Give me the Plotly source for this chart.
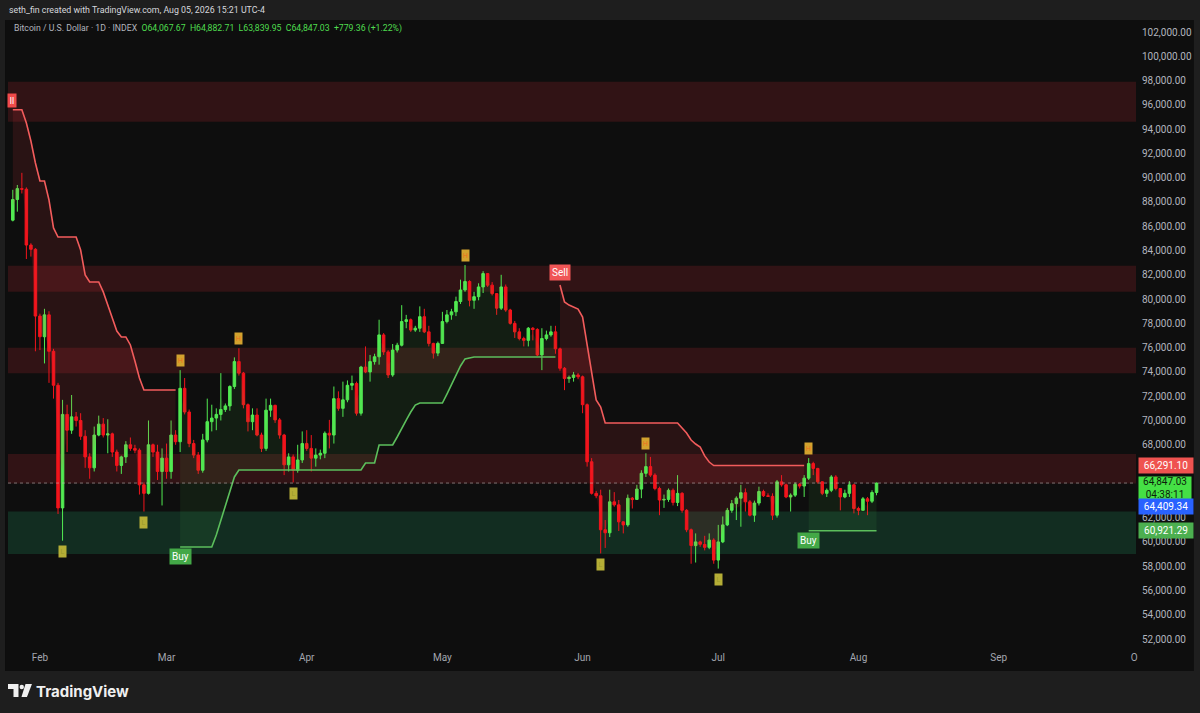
import plotly.graph_objects as go
import pandas as pd

# ---------------- data ----------------
dates = pd.date_range("2026-01-26", periods=192, freq="D").strftime("%Y-%m-%d").tolist()

opens = [86500, 88200, 89100, 89050, 84450, 84100, 78600, 76900, 78700, 75700,
         72900, 62800, 70500, 69200, 70300, 70000, 68700, 67000, 66100, 68800,
         69700, 68800, 68900, 67400, 66300, 67000, 68000, 67700, 67550, 64700,
         64000, 68000, 67400, 65800, 66900, 65800, 68800, 68250, 72650, 70700,
         68100, 67150, 65900, 68400, 69900, 70200, 70500, 70900, 71200, 72800,
         74850, 73900, 71300, 69900, 70450, 68800, 67700, 70850, 71250, 70050,
         68800, 66350, 67000, 65900, 66750, 68100, 67700, 66900, 67150, 67300,
         68950, 68800, 71800, 71000, 71700, 72900, 73050, 70600, 74400, 74000,
         74850, 75250, 77050, 75650, 73750, 75800, 76200, 78150, 78300, 77450,
         77600, 78550, 77300, 76350, 75550, 76350, 78150, 78700, 78950, 79800,
         80750, 81450, 79900, 80200, 81000, 82100, 81150, 80450, 79250, 81000,
         79100, 78000, 77300, 76750, 76600, 77600, 77500, 75400, 76750, 77050,
         77300, 75900, 74300, 73450, 73550, 73750, 73600, 71300, 66600, 64000,
         63800, 61000, 60750, 63300, 63050, 61650, 61400, 63600, 63500, 64350,
         65650, 66200, 65500, 64400, 63450, 63500, 64250, 63250, 64000, 62600,
         61000, 59700, 60000, 59800, 59550, 60150, 58500, 60000, 61400, 62600,
         63150, 63600, 64050, 63300, 62200, 63200, 64150, 63800, 63750, 62200,
         64950, 64700, 63700, 63850, 64750, 64600, 65250, 66450, 66050, 64950,
         64000, 64250, 65350, 64400, 63700, 64000, 64700, 62750, 62600, 63550,
         63350, 64067.67]

highs = [89000, 89400, 90400, 89200, 84600, 84200, 78800, 79200, 79000, 75900,
         73100, 71700, 71300, 72100, 70700, 70600, 69200, 67300, 69500, 70400,
         70200, 70100, 69000, 67600, 67100, 68300, 68600, 68000, 67700, 64900,
         70000, 68100, 68000, 67700, 68100, 70000, 69200, 74150, 73500, 70900,
         68400, 67400, 68900, 71800, 71300, 71000, 73900, 71400, 72900, 75200,
         75950, 74000, 71400, 71000, 71000, 69000, 71800, 71800, 71300, 70200,
         68900, 67300, 67200, 68000, 69100, 69200, 68800, 67700, 67600, 69100,
         70050, 72800, 72400, 73200, 73300, 73700, 73200, 74500, 76100, 75400,
         75500, 78300, 77200, 75800, 76300, 76400, 79500, 78700, 78400, 77800,
         79400, 79200, 77800, 76400, 76500, 78950, 79100, 79200, 80200, 81600,
         82800, 81550, 80600, 81300, 82300, 82150, 81400, 80500, 82000, 81200,
         79200, 78200, 77600, 76900, 77700, 77700, 77600, 77600, 77400, 77800,
         77800, 76000, 74400, 73700, 74000, 73900, 73700, 71400, 66900, 64200,
         64300, 61800, 64300, 64100, 63450, 61700, 63900, 63700, 64700, 65900,
         67300, 67000, 65650, 64550, 63900, 64400, 64400, 65500, 64100, 62700,
         61100, 60700, 60100, 60500, 60700, 60300, 61400, 62100, 62800, 63450,
         63750, 64700, 64400, 63450, 63400, 64550, 64300, 64000, 64000, 65100,
         65500, 64800, 64000, 64900, 64850, 65500, 66900, 66600, 66100, 65000,
         64400, 65500, 65500, 64400, 64300, 65000, 64800, 62900, 63700, 63700,
         64250, 64882.71]

lows = [86400, 87200, 88700, 83300, 83500, 75700, 75800, 74700, 73100, 71800,
        62300, 60100, 67400, 68900, 69500, 68400, 66100, 65200, 65800, 68700,
        68600, 67300, 67000, 65800, 65600, 66500, 67500, 67300, 63900, 62500,
        63900, 67000, 65100, 63000, 65200, 65200, 68000, 67400, 70500, 67800,
        66900, 65600, 65700, 68200, 69100, 69200, 70000, 70700, 70800, 72600,
        73700, 71000, 69100, 69200, 68700, 67400, 67500, 70300, 69800, 68500,
        65500, 65800, 64900, 65700, 66500, 67500, 65800, 66200, 66800, 66900,
        67700, 68100, 70800, 70300, 71500, 72500, 70400, 70400, 73900, 73200,
        74600, 74600, 75400, 73500, 73600, 75600, 76100, 77600, 77300, 77300,
        77300, 77200, 76100, 75100, 75300, 76300, 78000, 78300, 78600, 79600,
        80600, 79400, 79200, 79900, 80500, 81000, 80300, 78700, 79100, 78950,
        77900, 76800, 76600, 76100, 76100, 76600, 75300, 74150, 76600, 76900,
        75500, 74100, 72500, 73100, 73200, 73400, 70600, 66200, 63900, 63600,
        59050, 59500, 60400, 62900, 60900, 60700, 61250, 62750, 63450, 63600,
        65350, 65350, 64250, 62200, 62800, 63300, 63000, 62950, 62400, 60800,
        58200, 58300, 59600, 59300, 59400, 58200, 57800, 59900, 61300, 62400,
        61800, 61250, 62500, 62100, 61650, 63000, 63700, 63700, 61800, 62000,
        64550, 63600, 62500, 63700, 64400, 63700, 65100, 65500, 64800, 63850,
        63700, 64100, 64250, 62600, 63600, 63700, 62350, 62200, 62600, 62200,
        63200, 63839.95]

closes = [88200, 89100, 89050, 84450, 84100, 78600, 76900, 78700, 75700, 72900,
          62800, 70500, 69200, 70300, 70000, 68700, 67000, 66100, 68800, 69700,
          68800, 68900, 67400, 66300, 67000, 68000, 67700, 67550, 64700, 64000,
          68000, 67400, 65800, 66900, 65800, 68800, 68250, 72650, 70700, 68100,
          67150, 65900, 68400, 69900, 70200, 70500, 70900, 71200, 72800, 74850,
          73900, 71300, 69900, 70450, 68800, 67700, 70850, 71250, 70050, 68800,
          66350, 67000, 65900, 66750, 68100, 67700, 66900, 67150, 67300, 68950,
          68800, 71800, 71000, 71700, 72900, 73050, 70600, 74400, 74000, 74850,
          75250, 77050, 75650, 73750, 75800, 76200, 78150, 78300, 77450, 77600,
          78550, 77300, 76350, 75550, 76350, 78150, 78700, 78950, 79800, 80750,
          81450, 79900, 80200, 81000, 82100, 81150, 80450, 79250, 81000, 79100,
          78000, 77300, 76750, 76600, 77600, 77500, 75400, 76750, 77050, 77300,
          75900, 74300, 73450, 73550, 73750, 73600, 71300, 66600, 64000, 63800,
          61000, 60750, 63300, 63050, 61650, 61400, 63600, 63500, 64350, 65650,
          66200, 65500, 64400, 63450, 63500, 64250, 63250, 64000, 62600, 61000,
          59700, 60000, 59800, 59550, 60150, 58500, 60000, 61400, 62600, 63150,
          63600, 64050, 63300, 62200, 63200, 64150, 63800, 63750, 62200, 64950,
          64700, 63700, 63850, 64750, 64600, 65250, 66450, 66050, 64950, 64000,
          64250, 65350, 64400, 63700, 64000, 64700, 62750, 62600, 63550, 63350,
          64067.67, 64847.03]

# trailing-stop line, one list per trend segment (start index, values)
red_trail_1 = [95600, 95600, 95600, 94500, 93020, 91210, 89730, 89730, 88160, 85860,
               85115, 85115, 85115, 85115, 85115, 84040, 81990, 81410, 81410, 81410,
               80590, 79430, 78440, 77370, 76880, 76880, 76220, 74900, 73500, 72510,
               72510, 72510, 72510, 72510, 72510, 72510, 72510]
green_trail_1 = [59580] * 8 + [60570, 61800, 62960, 64190, 65350] + [65920] * 28 + \
                [66500] * 3 + [67980] * 4 + [68640, 69380, 70040, 70700, 71270] + \
                [71440] * 6 + [72180, 72920, 73660, 74490, 75070, 75150] + [75230] * 19
red_trail_2 = [81160, 79760, 79510, 79350, 79180, 78520, 76220, 73910, 71690, 71110] + \
              [69790] * 17 + [69380, 68970, 68390, 68060, 67820, 67080, 66580] + [66291.10] * 21
green_trail_2 = [60921.29] * 16
trail_starts = [0, 37, 121, 176]
trail_values = [red_trail_1, green_trail_1, red_trail_2, green_trail_2]
trail_dirs = ["down", "up", "down", "up"]

# horizontal supply / demand zones
zone_low = [94600, 80600, 73900, 64800, 59000]
zone_high = [97900, 82750, 76000, 67250, 62500]
zone_kind = ["supply", "supply", "supply", "supply", "demand"]

# pivot markers
pivot_idx = [11, 29, 37, 50, 62, 100, 130, 140, 156, 176]
pivot_kind = ["L", "L", "H", "H", "L", "H", "L", "H", "L", "H"]

# signals
signal_idx = [37, 121, 176]
signal_text = ["Buy", "Sell", "Buy"]

month_ticks = ["2026-02-01", "2026-03-01", "2026-04-01", "2026-05-01", "2026-06-01",
               "2026-07-01", "2026-08-01", "2026-09-01", "2026-10-01"]
month_labels = ["Feb", "Mar", "Apr", "May", "Jun", "Jul", "Aug", "Sep", "O"]

# price-scale ticks (64,000 and 66,000 are covered by the price labels)
price_ticks = [52000, 54000, 56000, 58000, 60000, 62000, 68000, 70000, 72000, 74000,
               76000, 78000, 80000, 82000, 84000, 86000, 88000, 90000, 92000, 94000,
               96000, 98000, 100000, 102000]

last_price = 64847.03
countdown = "04:38:11"
trail_last = 66291.10
support_last = 60921.29
blue_level = 64409.34

# ---------------- layout helpers ----------------
W, H = 1200, 713
PL, PR, PT, PB = 8, 1138, 20, 650


def fx(px):
    return (px - PL) / (PR - PL)


def fy(py):
    return (PB - py) / (PB - PT)


BG = "#0e0e0e"
FRAME = "#1e1e1e"
UP = "#52ea52"
DOWN = "#f2141c"
RED_LINE = "#f25c5c"
GREEN_LINE = "#5cbf5c"

fig = go.Figure()

# trailing line + fill to the candle mid
for start, vals, d in zip(trail_starts, trail_values, trail_dirs):
    xs = dates[start:start + len(vals)]
    mids = [(highs[i] + lows[i]) / 2 for i in range(start, start + len(vals))]
    fig.add_trace(go.Scatter(x=xs, y=mids, mode="lines", line=dict(width=0),
                             hoverinfo="skip", showlegend=False))
    fig.add_trace(go.Scatter(
        x=xs, y=vals, mode="lines",
        line=dict(color=RED_LINE if d == "down" else GREEN_LINE, width=1.6),
        fill="tonexty",
        fillcolor="rgba(242,54,69,0.12)" if d == "down" else "rgba(76,200,80,0.09)",
        hoverinfo="skip", showlegend=False))

fig.add_trace(go.Candlestick(
    x=dates, open=opens, high=highs, low=lows, close=closes,
    increasing=dict(line=dict(color=UP, width=1), fillcolor=UP),
    decreasing=dict(line=dict(color=DOWN, width=1), fillcolor=DOWN),
    whiskerwidth=0, hoverinfo="skip", showlegend=False))

shapes = []
# chart panel background
shapes.append(dict(type="rect", xref="paper", yref="paper", x0=fx(5), x1=fx(1196),
                   y0=fy(671), y1=fy(20), fillcolor=BG, line=dict(width=0), layer="below"))
for lo, hi, k in zip(zone_low, zone_high, zone_kind):
    shapes.append(dict(type="rect", xref="paper", yref="y", x0=0, x1=1, y0=lo, y1=hi,
                       fillcolor="rgba(190,40,50,0.2)" if k == "supply" else "rgba(34,171,110,0.2)",
                       line=dict(width=0), layer="below"))
# last price dotted line
shapes.append(dict(type="line", xref="paper", yref="y", x0=0, x1=1, y0=last_price, y1=last_price,
                   line=dict(color="rgba(190,190,190,0.55)", width=1, dash="dot")))
# TradingView logo
shapes.append(dict(type="path", xref="paper", yref="paper",
                   path=f"M {fx(8)},{fy(684)} L {fx(18.5)},{fy(684)} L {fx(18.5)},{fy(697)} "
                        f"L {fx(13.5)},{fy(697)} L {fx(13.5)},{fy(689)} L {fx(8)},{fy(689)} Z",
                   fillcolor="#f0f0f0", line=dict(width=0)))
shapes.append(dict(type="circle", xref="paper", yref="paper", x0=fx(19.6), x1=fx(24.0),
                   y0=fy(689.2), y1=fy(684.8), fillcolor="#f0f0f0", line=dict(width=0)))
shapes.append(dict(type="path", xref="paper", yref="paper",
                   path=f"M {fx(25.5)},{fy(684)} L {fx(32)},{fy(684)} L {fx(27)},{fy(697)} "
                        f"L {fx(21.5)},{fy(697)} Z",
                   fillcolor="#f0f0f0", line=dict(width=0)))

ann = []
FONT = "Roboto, Liberation Sans, Arial"
ann.append(dict(xref="paper", yref="paper", x=fx(7), y=fy(10), xanchor="left", yanchor="middle",
                text="seth_fin created with TradingView.com, Aug 05, 2026 15:21 UTC-4",
                showarrow=False, font=dict(family=FONT, size=8.8, color="#d6d8dd")))
green_txt = "#4fdc4f"
ann.append(dict(xref="paper", yref="paper", x=fx(12), y=fy(29), xanchor="left", yanchor="middle",
                text=("Bitcoin / U.S. Dollar · 1D · INDEX&nbsp;&nbsp;"
                      f"<span style='color:{green_txt}'>O64,067.67&nbsp;&nbsp;H64,882.71&nbsp;&nbsp;"
                      "L63,839.95&nbsp;&nbsp;C64,847.03&nbsp;&nbsp;+779.36 (+1.22%)</span>"),
                showarrow=False, font=dict(family=FONT, size=8.7, color="#b2b5be")))
ann.append(dict(xref="paper", yref="paper", x=fx(34), y=fy(691), xanchor="left", yanchor="middle",
                text="<b>TradingView</b>", showarrow=False,
                font=dict(family="Inter, Roboto, Arial", size=15, color="#f0f0f0")))

# pivots
for i, k in zip(pivot_idx, pivot_kind):
    if k == "H":
        ann.append(dict(x=dates[i], y=highs[i], yshift=10, text="H", showarrow=False,
                        bgcolor="#d2a22e", width=7, height=11, borderpad=0,
                        font=dict(family=FONT, size=7, color="#f06a1e")))
    else:
        ann.append(dict(x=dates[i], y=lows[i], yshift=-11, text="L", showarrow=False,
                        bgcolor="#b5ae36", width=7, height=11, borderpad=0,
                        font=dict(family=FONT, size=7, color="#9c9a2c")))

# buy / sell signals
for i, t in zip(signal_idx, signal_text):
    seg = trail_starts.index(i)
    val = trail_values[seg][0]
    if t == "Buy":
        ann.append(dict(x=dates[i], y=val, yshift=-10, text=t, showarrow=False,
                        bgcolor="#43a847", borderpad=2,
                        font=dict(family=FONT, size=10, color="#ffffff")))
    else:
        ann.append(dict(x=dates[i], y=val, yshift=13, text=t, showarrow=False,
                        bgcolor="#f05656", borderpad=2,
                        font=dict(family=FONT, size=10, color="#ffffff")))
# cut-off sell label at the left edge
ann.append(dict(xref="paper", x=fx(7), xanchor="left", y=red_trail_1[0], yshift=9, text="ll",
                showarrow=False, bgcolor="#f04a4a", width=8, height=13, borderpad=0,
                font=dict(family=FONT, size=9, color="#ffffff")))

# right price-scale labels
xr = fx(1140)
ann.append(dict(xref="paper", x=xr, xanchor="left", y=trail_last, text=f"{trail_last:,.2f}",
                showarrow=False, bgcolor="#ef5350", width=52, height=13, borderpad=1,
                font=dict(family=FONT, size=10, color="#ffffff")))
ann.append(dict(xref="paper", x=xr, xanchor="left", y=last_price, yanchor="top", yshift=7,
                text=f"{last_price:,.2f}<br>{countdown}", showarrow=False, bgcolor="#45e045",
                width=52, height=22, borderpad=0, font=dict(family=FONT, size=10, color="#0b1f0b")))
ann.append(dict(xref="paper", x=xr, xanchor="left", y=blue_level, yshift=-18,
                text=f"{blue_level:,.2f}", showarrow=False, bgcolor="#2962ff", width=52, height=13,
                borderpad=1, font=dict(family=FONT, size=10, color="#ffffff")))
ann.append(dict(xref="paper", x=xr, xanchor="left", y=support_last, text=f"{support_last:,.2f}",
                showarrow=False, bgcolor="#4caf50", width=52, height=13, borderpad=1,
                font=dict(family=FONT, size=10, color="#ffffff")))

y_top = 102000 + (32 - PT) * 82.37
y_bot = 102000 - (PB - 32) * 82.37

fig.update_layout(
    width=W, height=H,
    margin=dict(l=PL, r=W - PR, t=PT, b=H - PB),
    paper_bgcolor=FRAME, plot_bgcolor=BG,
    showlegend=False, hovermode=False,
    boxgap=0.2,
    shapes=shapes, annotations=ann,
    xaxis=dict(type="date", range=["2026-01-24 22:28", "2026-10-01 09:07"],
               rangeslider=dict(visible=False), showgrid=False, zeroline=False,
               showline=False, tickvals=month_ticks, ticktext=month_labels, ticks="",
               tickfont=dict(family=FONT, size=10, color="#a3a6af")),
    yaxis=dict(side="right", range=[y_bot, y_top], tickvals=price_ticks,
               tickformat=",.2f", showgrid=False, zeroline=False, showline=False,
               ticks="outside", ticklen=3, tickcolor="rgba(0,0,0,0)",
               tickfont=dict(family=FONT, size=10, color="#b2b5be")),
)

fig.write_html(
    "out.html",
    config={"displayModeBar": False},
    post_script="document.body.style.margin='0';document.body.style.background='#1e1e1e';",
)
